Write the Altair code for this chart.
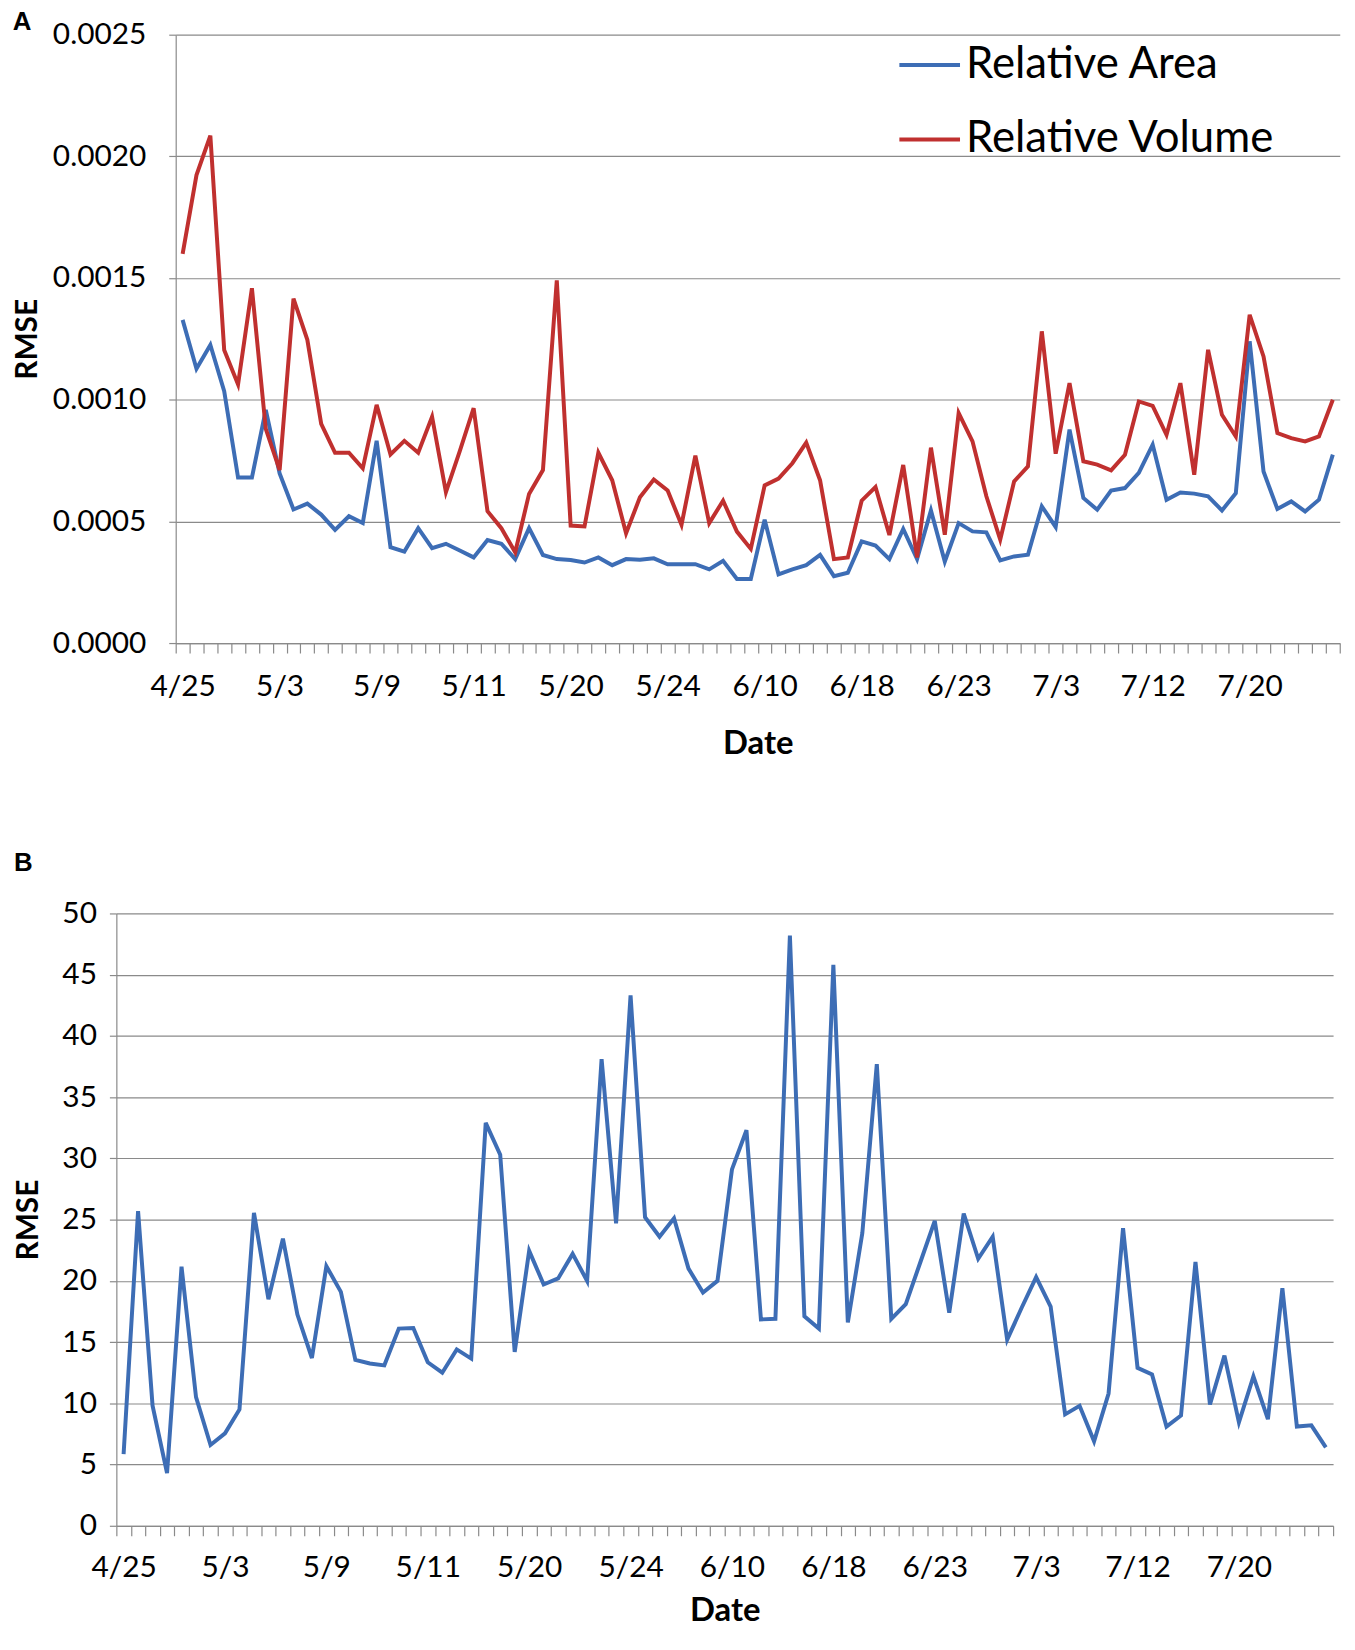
import json
import altair as alt
import pandas as pd

# ---------------- data ----------------
tick_labels = ["4/25", "5/3", "5/9", "5/11", "5/20", "5/24", "6/10", "6/18",
               "6/23", "7/3", "7/12", "7/20"]
label_every = 7
n_points = 84

series_names = ["Relative Area", "Relative Volume"]

relative_area = [
    0.001328, 0.001127, 0.001225, 0.001035, 0.000680, 0.000680, 0.000958, 0.000697, 0.000549, 0.000573,
    0.000528, 0.000465, 0.000521, 0.000493, 0.000831, 0.000394, 0.000376, 0.000472, 0.000390, 0.000408,
    0.000380, 0.000352, 0.000423, 0.000408, 0.000345, 0.000472, 0.000362, 0.000345, 0.000341, 0.000331,
    0.000352, 0.000320, 0.000345, 0.000342, 0.000348, 0.000324, 0.000324, 0.000324, 0.000303, 0.000338,
    0.000263, 0.000263, 0.000507, 0.000282, 0.000303, 0.000320, 0.000362, 0.000275, 0.000289, 0.000418,
    0.000401, 0.000345, 0.000469, 0.000345, 0.000545, 0.000335, 0.000493, 0.000459, 0.000455, 0.000340,
    0.000356, 0.000363, 0.000562, 0.000477, 0.000877, 0.000596, 0.000548, 0.000627, 0.000637, 0.000699,
    0.000815, 0.000589, 0.000619, 0.000614, 0.000603, 0.000545, 0.000616, 0.001240, 0.000705, 0.000551,
    0.000582, 0.000541, 0.000589, 0.000774,
]

relative_volume = [
    0.001599, 0.001923, 0.002085, 0.001204, 0.001063, 0.001458, 0.000880, 0.000711, 0.001415, 0.001246,
    0.000901, 0.000782, 0.000782, 0.000718, 0.000979, 0.000775, 0.000831, 0.000782, 0.000930, 0.000620,
    0.000789, 0.000965, 0.000542, 0.000472, 0.000373, 0.000613, 0.000711, 0.001490, 0.000483, 0.000479,
    0.000782, 0.000669, 0.000451, 0.000599, 0.000672, 0.000627, 0.000486, 0.000770, 0.000493, 0.000585,
    0.000458, 0.000387, 0.000648, 0.000676, 0.000739, 0.000824, 0.000669, 0.000345, 0.000352, 0.000585,
    0.000641, 0.000444, 0.000732, 0.000352, 0.000803, 0.000445, 0.000945, 0.000829, 0.000603, 0.000425,
    0.000664, 0.000726, 0.001281, 0.000778, 0.001068, 0.000747, 0.000733, 0.000710, 0.000774, 0.000993,
    0.000975, 0.000856, 0.001068, 0.000692, 0.001205, 0.000938, 0.000849, 0.001349, 0.001178, 0.000863,
    0.000842, 0.000829, 0.000849, 0.001000,
]

rmse_b = [
    5.85, 25.7, 9.8, 4.3, 21.15, 10.5, 6.6, 7.55, 9.5, 25.55,
    18.5, 23.45, 17.25, 13.7, 21.2, 19.1, 13.55, 13.25, 13.1, 16.1,
    16.15, 13.35, 12.5, 14.4, 13.65, 32.9, 30.3, 14.2, 22.45, 19.7,
    20.2, 22.2, 20.0, 38.1, 24.7, 43.3, 25.2, 23.6, 25.1, 21.0,
    19.05, 20.0, 29.1, 32.3, 16.85, 16.9, 48.2, 17.1, 16.1, 45.8,
    16.6, 23.9, 37.7, 16.9, 18.1, 21.5, 24.9, 17.4, 25.5, 21.8,
    23.6, 15.2, 17.8, 20.3, 17.9, 9.1, 9.8, 6.9, 10.8, 24.3,
    12.9, 12.35, 8.1, 9.0, 21.55, 9.9, 13.9, 8.45, 12.2, 8.7,
    19.4, 8.1, 8.2, 6.4,
]

y_ticks_a = [0.0, 0.0005, 0.0010, 0.0015, 0.0020, 0.0025]
y_ticks_b = [0, 5, 10, 15, 20, 25, 30, 35, 40, 45, 50]

BLUE = "#3d6db5"
RED = "#c0302f"
GRID = "#8a8a8a"
FONT = "Lato"

# ---------------- tables ----------------
df_a = pd.DataFrame({
    "idx": [i + 0.5 for i in range(n_points)] * 2,
    "value": relative_area + relative_volume,
    "series": [series_names[0]] * n_points + [series_names[1]] * n_points,
})
df_b = pd.DataFrame({
    "idx": [i + 0.5 for i in range(n_points)],
    "value": rmse_b,
})

W_A, H_A = 1171, 612
W_B, H_B = 1224, 616
GAP_AB = 272  # from bottom of plot A to top of plot B

label_expr = (f"(datum.value % {label_every} == 0 && datum.value < {n_points}) ? "
              f"{json.dumps(tick_labels)}[round(datum.value / {label_every})] : ''")


def x_enc(width, label_pad, title_pad):
    step = width / n_points
    return alt.X(
        "idx:Q",
        scale=alt.Scale(domain=[0, n_points], nice=False, zero=False),
        axis=alt.Axis(
            values=list(range(n_points + 1)),
            labelExpr=label_expr,
            labelOffset=step / 2,
            labelFlush=False,
            labelOverlap=False,
            grid=False,
            tickSize=10,
            labelPadding=label_pad,
            title="Date",
            titleFontSize=33,
            titlePadding=title_pad,
        ),
    )


chart_a = alt.Chart(df_a).mark_line(strokeWidth=4).encode(
    x=x_enc(W_A, 19, 26),
    y=alt.Y(
        "value:Q",
        scale=alt.Scale(domain=[0, 0.0025], nice=False),
        axis=alt.Axis(values=y_ticks_a, format=".4f", title="RMSE", titleFontSize=30,
                      tickSize=7, labelPadding=23, minExtent=122, maxExtent=122,
                      titlePadding=12),
    ),
    color=alt.Color(
        "series:N",
        scale=alt.Scale(domain=series_names, range=[BLUE, RED]),
        legend=alt.Legend(
            title=None, orient="none", legendX=726, legendY=-2,
            symbolType="stroke", symbolSize=3721, symbolStrokeWidth=4,
            labelFontSize=44, labelFont=FONT, labelColor="#000", labelLimit=0,
            labelOffset=4, rowPadding=20,
        ),
    ),
).properties(
    width=W_A, height=H_A,
    title=alt.TitleParams("A", anchor="start", frame="bounds", fontSize=26,
                          font="Liberation Sans", fontWeight="bold", offset=-15),
)

chart_b = alt.Chart(df_b).mark_line(strokeWidth=4, color=BLUE).encode(
    x=x_enc(W_B, 17, 12),
    y=alt.Y(
        "value:Q",
        scale=alt.Scale(domain=[0, 50], nice=False),
        axis=alt.Axis(values=y_ticks_b, format="d", title="RMSE", titleFontSize=30,
                      tickSize=7, labelPadding=13, minExtent=60, maxExtent=60,
                      titlePadding=13),
    ),
).properties(
    width=W_B, height=H_B,
    title=alt.TitleParams("B", anchor="start", frame="bounds", fontSize=26,
                          font="Liberation Sans", fontWeight="bold", offset=23),
)

# invisible spacer that shifts panel A right of panel B's plot origin
spacer = alt.Chart(pd.DataFrame({"v": [0]})).mark_point(opacity=0, size=1).encode(
    x=alt.X("v:Q", axis=None), y=alt.Y("v:Q", axis=None)
).properties(width=1, height=1)

row_a = alt.hconcat(spacer, chart_a, spacing=58.7, bounds="flush").resolve_legend(
    color="independent")

# with flush bounds the nested row counts as zero height, so the spacing
# carries plot A's height plus the gap between the panels
chart = alt.vconcat(row_a, chart_b, spacing=H_A + GAP_AB, bounds="flush").properties(
    padding={"left": 4, "top": -4, "right": 0, "bottom": 0},
).resolve_legend(
    color="independent"
).configure_view(
    stroke=None,
).configure_axis(
    domainColor=GRID, tickColor=GRID, gridColor=GRID, gridWidth=1.2,
    domainWidth=1.2, tickWidth=1.2,
    labelFont=FONT, labelFontSize=30, labelColor="#000",
    titleFont=FONT, titleFontSize=33, titleFontWeight="bold", titleColor="#000",
).configure_title(color="#000")

chart.save("out.html", embed_options={"renderer": "svg", "actions": False})
